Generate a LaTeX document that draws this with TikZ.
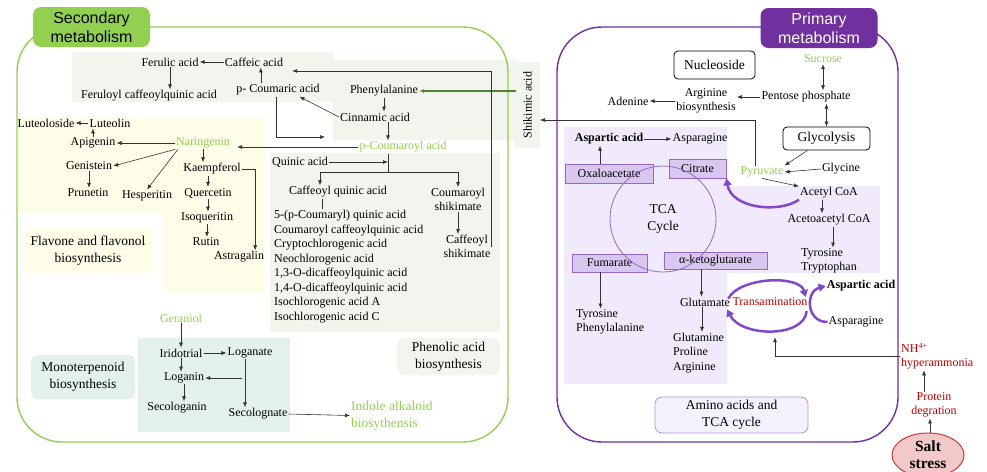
\documentclass[tikz,border=0pt]{standalone}
\usepackage{fontspec}
\setmainfont{Liberation Serif}
\setsansfont{Liberation Sans}
\usetikzlibrary{arrows.meta,positioning,calc,shapes.geometric}
\definecolor{secgreen}{RGB}{146,208,80}
\definecolor{darkgreen}{RGB}{84,130,53}
\definecolor{primpurple}{RGB}{112,48,160}
\definecolor{arcpurple}{RGB}{128,72,206}
\definecolor{phenbg}{RGB}{242,245,238}
\definecolor{flavbg}{RGB}{254,253,232}
\definecolor{monobg}{RGB}{226,242,234}
\definecolor{lavbg}{RGB}{240,234,252}
\definecolor{tcabox}{RGB}{217,199,240}
\definecolor{tcaline}{RGB}{146,104,206}
\definecolor{stressred}{RGB}{192,0,0}
\definecolor{saltfill}{RGB}{242,200,200}
\definecolor{saltline}{RGB}{200,60,60}
\tikzset{
    met/.style={
    inner sep=1pt,font=\fontsize{12}{14}\selectfont
    },
    grn/.style={
    met,text=secgreen
    },
    boldmet/.style={
    inner sep=1pt,font=\fontsize{12}{14}\selectfont\bfseries
    },
    stressmet/.style={
    met,text=stressred,align=center
    },
    lbl/.style={
    rectangle,rounded corners=7pt,align=center,inner sep=2pt,font=\fontsize{13.5}{17}\selectfont
    },
    tcabx/.style={
    rectangle,draw=tcaline,fill=tcabox,line width=0.8pt,inner sep=1pt,font=\fontsize{12}{14}\selectfont
    },
    titlebox/.style={
    rectangle,rounded corners=8pt,align=center,font=\sffamily\fontsize{16}{19}\selectfont,
    minimum width=117pt,minimum height=40pt
    },
    flow/.style={
    ->,black!80,line width=0.6pt
    },
    parc/.style={
    -{Triangle[length=7pt,width=8pt]},arcpurple,line width=2.5pt
    },
}
\begin{document}
\begin{tikzpicture}[x=1pt, y=-1pt, >={Latex[length=5pt,width=4pt]}]
   \useasboundingbox (0,0) rectangle (987,471);

   %background panels
   \fill[phenbg] (72,52) rectangle (333,102);
   \fill[phenbg] (333,60) rectangle (518,140);
   \fill[phenbg] (270,153) rectangle (500,332);
   \fill[flavbg] (18,117) rectangle (265,213);
   \fill[flavbg] (163,213) rectangle (265,293);
   \fill[monobg] (138,338) rectangle (290,432);
   \fill[lavbg] (564,127) rectangle (727,384);
   \fill[lavbg] (727,186) rectangle (880,273);

   %outer boxes
   \draw[secgreen, line width=1.4pt, rounded corners=45pt] (17,27) rectangle (508,442);
   \draw[primpurple, line width=1.4pt, rounded corners=45pt] (557,27) rectangle (898,442);
   \node[titlebox, fill=secgreen] (sectitle) at (91.5,27) {Secondary\\metabolism};
   \node[titlebox, fill=primpurple, text=white] (primtitle) at (819,28) {Primary\\metabolism};

   %labels
   \node[lbl, fill=flavbg, minimum width=130, minimum height=45] (flavlbl) at (88,250.5) {Flavone and flavonol\\biosynthesis};
   \node[lbl, fill=monobg, minimum width=104, minimum height=44] (monolbl) at (83,377) {Monoterpenoid\\biosynthesis};
   \node[lbl, fill=phenbg, minimum width=103, minimum height=37] (phenlbl) at (448.5,356.5) {Phenolic acid\\biosynthesis};
   \node[lbl, fill=lavbg!70, draw=tcaline!70, line width=0.8pt, minimum width=153, minimum height=36] (aminolbl) at (731.5,415) {Amino acids and\\TCA cycle};

   %phenolic acid
   \node[met] (fer) at (170,62) {Ferulic acid};
   \node[met] (caf) at (254,62) {Caffeic acid};
   \node[met] (ferq) at (149,96) {Feruloyl caffeoylquinic acid};
   \node[met] (pcou) at (278,90) {p- Coumaric acid};
   \node[met] (phe) at (384,91) {Phenylalanine};
   \node[met] (cin) at (375,117) {Cinnamic acid};
   \node[grn] (pcoy) at (403,147) {p-Coumaroyl acid};
   \node[met] (qui) at (300,162) {Quinic acid};
   \node[met] (cafq) at (338,192) {Caffeoyl quinic acid};
   \node[met, align=center] (cous) at (458,199.5) {Coumaroyl\\shikimate};
   \node[met, align=center] (cafs) at (467,246.5) {Caffeoyl\\shikimate};
   \node[met, align=left, anchor=north west, font=\fontsize{12}{14.5}\selectfont] (lst) at (273,209)
     {5-(p-Coumaryl) quinic acid\\Coumaroyl caffeoylquinic acid\\Cryptochlorogenic acid\\Neochlorogenic acid\\
      1,3-O-dicaffeoylquinic acid\\1,4-O-dicaffeoylquinic acid\\Isochlorogenic acid A\\Isochlorogenic acid C};
   \node[met, rotate=90, fill=phenbg, minimum width=86, minimum height=25] (shik) at (527.5,105) {Shikimic acid};
   \coordinate (junc) at (388,172);
   \coordinate (pcin) at (325,137);

   %flavone and flavonol
   \node[met] (lutd) at (46,123) {Luteoloside};
   \node[met] (lut) at (110,123) {Luteolin};
   \node[met] (api) at (93,143) {Apigenin};
   \node[grn] (nar) at (203,143) {Naringenin};
   \node[met] (gen) at (89,166) {Genistein};
   \node[met] (pru) at (88,193) {Prunetin};
   \node[met] (hes) at (147,196) {Hesperitin};
   \node[met] (kae) at (212,169) {Kaempferol};
   \node[met] (que) at (208,193) {Quercetin};
   \node[met] (iso) at (207,218) {Isoqueritin};
   \node[met] (rut) at (206,242) {Rutin};
   \node[met] (ast) at (239,257) {Astragalin};

   %monoterpenoid
   \node[grn] (ger) at (181,318) {Geraniol};
   \node[met] (iri) at (181,353) {Iridotrial};
   \node[met] (lgt) at (250,353) {Loganate};
   \node[met] (lgn) at (184,378) {Loganin};
   \node[met] (seco) at (177,408) {Secologanin};
   \node[met] (secg) at (258,414) {Secolognate};
   \node[met, align=left, anchor=west, text=secgreen, font=\fontsize{13.5}{17}\selectfont] (ind) at (350,415.5) {Indole alkaloid\\biosythensis};

   %primary metabolism
   \node[lbl, draw=black, rounded corners=4pt, line width=0.8pt, minimum width=81, minimum height=28] (nuc) at (714.5,65) {Nucleoside};
   \node[grn] (suc) at (823,59) {Sucrose};
   \node[met] (pent) at (806,97) {Pentose phosphate};
   \node[lbl, draw=black, rounded corners=4pt, line width=0.8pt, minimum width=87, minimum height=23] (gly) at (826.5,138.5) {Glycolysis};
   \node[met, align=center] (arg) at (706,101) {Arginine\\biosynthesis};
   \node[met] (ade) at (628,101) {Adenine};
   \node[boldmet] (asp) at (609,139) {Aspartic acid};
   \node[met] (aspg) at (700,139) {Asparagine};
   \node[tcabx, minimum width=88, minimum height=19] (oxa) at (609,173.5) {Oxaloacetate};
   \node[tcabx, minimum width=57, minimum height=19] (cit) at (697.5,168.5) {Citrate};
   \node[tcabx, minimum width=75, minimum height=18] (fum) at (609.5,263) {Fumarate};
   \node[tcabx, minimum width=103, minimum height=17] (akg) at (715.5,260.5) {α-ketoglutarate};
   \node[circle, draw=tcaline, line width=0.8pt, minimum size=106, align=center, font=\fontsize{13.5}{17}\selectfont] (tca) at (663,219) {TCA\\Cycle};
   \node[met, align=left, anchor=west] (tyr) at (575,322) {Tyrosine\\Phenylalanine};
   \node[met] (glu) at (705,302) {Glutamate};
   \node[met, align=left, anchor=west, font=\fontsize{12}{14.5}\selectfont] (gpa) at (672,353) {Glutamine\\Proline\\Arginine};
   \node[met, text=stressred] (trans) at (770,302) {Transamination};
   \node[boldmet] (asp2) at (861,286) {Aspartic acid};
   \node[met] (aspg2) at (856,322) {Asparagine};
   \node[grn] (pyr) at (762,172) {Pyruvate};
   \node[met] (glyc) at (841,169) {Glycine};
   \node[met] (acet) at (829,193) {Acetyl CoA};
   \node[met] (acac) at (829,220) {Acetoacetyl CoA};
   \node[met, align=left, anchor=west] (tyt) at (800,261) {Tyrosine\\Tryptophan};
   \node[met, align=left, anchor=west, text=stressred] (nh) at (900,356) {NH\textsuperscript{4+}\\hyperammonia};
   \node[stressmet] (prot) at (934,405) {Protein\\degration};
   \node[ellipse, draw=saltline, fill=saltfill, line width=1pt, inner sep=0pt, minimum width=72, minimum height=44,
         align=center, font=\fontsize{15.5}{17}\selectfont\bfseries] (salt) at (928,455) {Salt\\stress};

   %phenolic acid connections
   \draw[flow] (caf.west) -- (fer.east);
   \draw[flow] (fer.south) -- (fer.south |- ferq.north);
   \draw[flow] ($(pcou.north west)!0.3!(pcou.north east)$) coordinate (t1) -- (t1 |- caf.south);
   \draw[darkgreen, line width=2pt, ->] ($(phe.east -| shik.center)+(-12,0)$) -- (phe.east);
   \draw[flow] (phe.south) -- (phe.south |- cin.north);
   \draw[flow] (cin.west) -- ($(pcou.south east)!0.25!(pcou.south west)$);
   \draw[flow] ($(cin.south)+(13,0)$) coordinate (t2) -- (t2 |- pcoy.north);
   \draw[flow] ($(pcou.south)+(-2,0)$) |- (pcin);
   \draw[flow] (cafs.east) |- ($(caf.east)+(8,9)$);
   \draw[flow] (pcoy.west) -- ($(pcoy.west -| nar.east)+(6,0)$);
   \draw[flow, -] (pcoy.south -| junc) -- (junc);
   \draw[flow] (qui.east) -- (qui.east -| junc);
   \draw[flow] (junc) -| ($(cafq.north)+(-18,0)$);
   \draw[flow] (junc) -| (cous.north);
   \draw[flow] (cous.south) -- (cous.south |- cafs.north);
   \draw[flow, -] ($(cafq.south)+(-16,0)$) coordinate (t3) -- (t3 |- lst.north);

   %flavone connections
   \draw[flow] (lut.west) -- (lutd.east);
   \draw[flow] (api.north) -- (api.north |- lut.south);
   \draw[flow] (nar.west) -- (api.east);
   \draw[flow] (nar.south west) -- (gen.east);
   \draw[flow] ($(nar.south west)+(3,0)$) -- (hes.north);
   \draw[flow] (nar.south) -- (nar.south |- kae.north);
   \draw[flow] (gen.south) -- (gen.south |- pru.north);
   \draw[flow] (que.north |- kae.south) -- (que.north);
   \draw[flow] (que.south) -- (que.south |- iso.north);
   \draw[flow] (iso.south) -- (iso.south |- rut.north);
   \draw[flow] (kae.east) -| ($(ast.north east)+(-10,0)$);

   %monoterpenoid connections
   \draw[flow] (ger.south) -- (ger.south |- iri.north);
   \draw[flow] (iri.east) -- (lgt.west);
   \draw[flow] (iri.south) -- (iri.south |- lgn.north);
   \draw[flow] ($(lgt.south)+(-5,0)$) coordinate (t4) -- (t4 |- secg.north);
   \draw[flow] ($(lgn.east -| lgt.south)+(-8,0)$) -- (lgn.east);
   \draw[flow] (lgn.south) -- (lgn.south |- seco.north);
   \draw[flow] (secg.east) -- (ind.west);

   %primary connections
   \draw[flow, <->] (suc.south) -- (suc.south |- pent.north);
   \draw[flow, <->] (gly.north) -- (gly.north |- pent.south);
   \draw[flow] (pent.west) -- (pent.west -| arg.east);
   \draw[flow] (arg.west) -- (ade.east);
   \draw[flow] ($(pyr.north)+(-7,0)$) |- ($(shik.center)+(12.5,15)$);
   \draw[flow] ($(gly.south west)+(25,0)$) -- (pyr.north east);
   \draw[flow] (glyc.west) -- (pyr.east);
   \draw[flow] (pyr.south) -- (acet.north west);
   \draw[flow] ($(acet.south)+(-7,0)$) coordinate (t5) -- (t5 |- acac.north);
   \draw[flow] ($(acac.south)+(4,0)$) coordinate (t6) -- (t6 |- tyt.north);
   \draw[flow] (asp.east) -- (aspg.west);
   \draw[flow] ($(oxa.north)+(-9,0)$) coordinate (t7) -- (t7 |- asp.south);
   \draw[flow] ($(fum.south)+(-9,0)$) coordinate (t8) -- (t8 |- tyr.north);
   \draw[flow] ($(akg.south)+(-14,0)$) coordinate (t9) -- (t9 |- glu.north);
   \draw[flow] ($(glu.south)+(-3,0)$) coordinate (t10) -- (t10 |- gpa.north);

   %purple arcs
   \draw[parc] (acet.south west) .. controls +(-20,14) and +(5,30) .. (cit.south east);
   \draw[parc] ($(glu.north east)+(-3,2)$) .. controls +(12,-22) and +(-6,-22) .. ($(trans.east)+(-3,-5)$);
   \draw[parc] ($(trans.east)+(-2,9)$) .. controls +(-2,27) and +(14,28) .. ($(glu.south east)+(-4,2)$);
   \draw[parc] (aspg2.west) .. controls +(-22,0) and +(-20,5) .. (asp2.west);

   %salt stress
   \draw[flow] (nh.west) -| ($(trans.south)+(5,30)$);
   \draw[flow] ($(prot.north)+(-10,0)$) coordinate (t11) -- (t11 |- nh.south);
   \draw[flow] ($(salt.north)+(2,0)$) coordinate (t12) -- (t12 |- prot.south);
\end{tikzpicture}
\end{document}
